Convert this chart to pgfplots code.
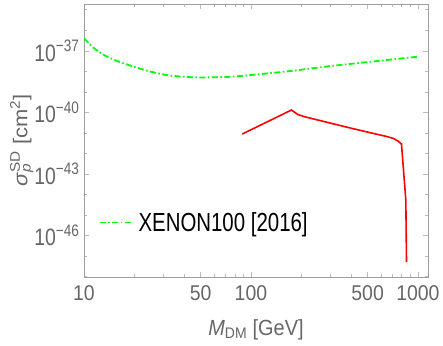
\documentclass[border=0pt]{standalone}
\usepackage{pgfplots}
\pgfplotsset{compat=1.18}
\usepackage{graphicx}
\usepackage{fontspec}
\setmainfont{Liberation Sans}
\definecolor{labgray}{gray}{0.40}
\definecolor{framegray}{gray}{0.62}
\newcommand{\ys}[2]{\scalebox{1}[#1]{#2}}
\begin{document}
\begin{tikzpicture}
\begin{axis}[
  scale only axis,
  width=344bp, height=273bp,
  xmode=log, ymode=log,
  xmin=10, xmax=1150,
  ymin=9.3e-49, ymax=1.9e-35,
  axis line style={framegray, line width=0.8pt},
  tick style={framegray!70, line width=0.5pt},
  tick align=inside,
  major tick length=5bp, minor tick length=3bp,
  xtick={10,50,100,500,1000},
  xticklabels={\ys{1.1}{10},\ys{1.1}{50},\ys{1.1}{100},\ys{1.1}{500},\ys{1.1}{1000}},
  minor xtick={20,30,40,60,70,80,90,200,300,400,600,700,800,900},
  ytick={1e-37,1e-40,1e-43,1e-46},
  yticklabels={\ys{1.22}{10\textsuperscript{−37}},\ys{1.22}{10\textsuperscript{−40}},\ys{1.22}{10\textsuperscript{−43}},\ys{1.22}{10\textsuperscript{−46}}},
  minor ytick={1e-48,1e-47,1e-45,1e-44,1e-42,1e-41,1e-39,1e-38,1e-36,1e-35},
  ticklabel style={font=\fontsize{19.5}{22}\selectfont, text=labgray},
  xticklabel style={yshift=-5bp},
  yticklabel style={xshift=-1bp},
  xlabel={\ys{1.1}{\textit{M}\textsubscript{DM} [GeV]}},
  ylabel={\scalebox{1.1}[1]{\textit{σ}\rlap{\textsubscript{\textit{p}}}\textsuperscript{SD} [cm\textsuperscript{2}]}},
  label style={font=\fontsize{20}{22}\selectfont, text=labgray},
  xlabel style={yshift=-12bp},
  ylabel style={yshift=-6bp},
  legend style={draw=none, fill=none, at={(0.035,0.2)}, anchor=west,
    font=\fontsize{20.5}{24}\selectfont, text=black},
  legend cell align=left,
  legend image code/.code={\draw[#1, line width=1.3pt] (0bp,0bp) -- (31bp,0bp);},
]
\addplot[green, line width=1.8pt, dash pattern=on 6bp off 2.5bp on 1.5bp off 2.5bp, smooth] coordinates {
(10,3.98e-37) (11.5,1.32e-37) (13.2,6.17e-38) (15.8,3.16e-38) (19.9,1.66e-38)
(25.1,9.55e-39) (31.5,6.46e-39) (39.7,5.37e-39) (50,5.01e-39) (75,5.37e-39)
(113,7.24e-39) (171,1.02e-38) (297,1.78e-38) (516,2.88e-38) (1000,5.13e-38)
};
\addlegendentry{\hspace{5bp}\ys{1.28}{XENON100 [2016]}}
\addplot[red, line width=1.6pt, forget plot] coordinates {
(88.7,8.71e-42) (175,1.29e-40) (190,7.94e-41) (210,6.03e-41) (300,2.95e-41)
(400,1.66e-41) (540,9.33e-42) (650,6.61e-42) (711,5.37e-42) (760,3.98e-42)
(798,2.82e-42) (847,5.25e-45) (855,5.13e-48)
};
\coordinate (bl) at (rel axis cs:0,0);
\coordinate (tr) at (rel axis cs:1,1);
\end{axis}
\pgfresetboundingbox
\path[use as bounding box] (bl) ++(-84bp,-69bp) rectangle ([shift={(15bp,4bp)}]tr);
\end{tikzpicture}
\end{document}
